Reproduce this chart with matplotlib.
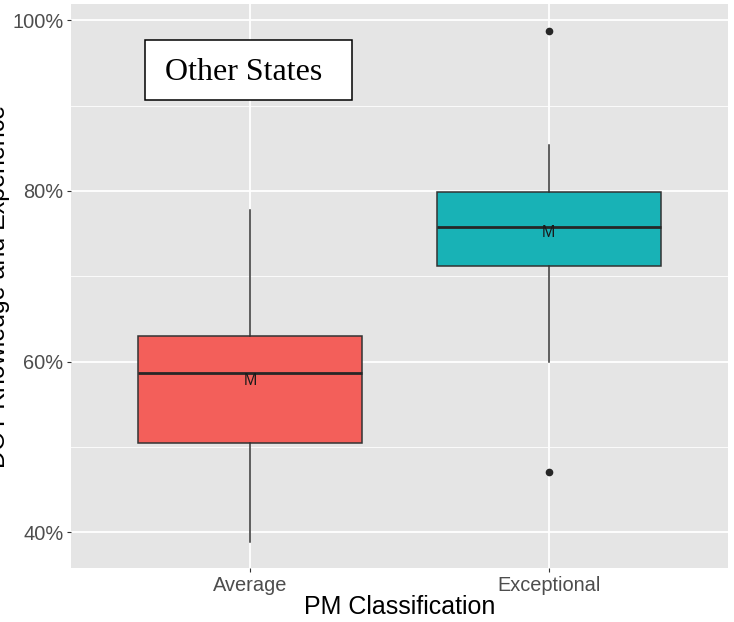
import matplotlib
matplotlib.use("Agg")
from matplotlib import pyplot as plt
import matplotlib.patches as patches
from matplotlib.ticker import PercentFormatter, FixedLocator

# box summaries per PM class (share of DOT knowledge & experience)
groups = ['Average', 'Exceptional']
q1 = [0.504, 0.712]
median = [0.587, 0.758]
q3 = [0.630, 0.799]
whisker_lo = [0.388, 0.599]
whisker_hi = [0.777, 0.854]
means = [0.578, 0.751]
outliers = [[], [0.987, 0.471]]
fills = ['#F35F5A', '#18B2B6']

plt.rcParams['font.family'] = ['Liberation Sans', 'DejaVu Sans']

fig = plt.figure(figsize=(7.34, 6.22), dpi=100)
ax = fig.add_axes([0.0967, 0.0868, 0.8951, 0.9068])
ax.set_facecolor('#E5E5E5')
for s in ax.spines.values():
    s.set_visible(False)

stats = []
for i, g in enumerate(groups):
    stats.append(dict(label=g, q1=q1[i], med=median[i], q3=q3[i],
                      whislo=whisker_lo[i], whishi=whisker_hi[i],
                      mean=means[i], fliers=outliers[i]))

pos = list(range(1, len(groups) + 1))
bp = ax.bxp(stats, positions=pos, widths=0.75, patch_artist=True,
            showcaps=False, showmeans=False, zorder=3,
            boxprops=dict(edgecolor='#333333', linewidth=1.1),
            whiskerprops=dict(color='#333333', linewidth=1.1),
            medianprops=dict(color='#262626', linewidth=2.0),
            flierprops=dict(marker='o', markerfacecolor='#262626',
                            markeredgecolor='#262626', markersize=4.5))
for box, c in zip(bp['boxes'], fills):
    box.set_facecolor(c)

# mean marker as a letter
for p, m in zip(pos, means):
    ax.text(p, m, 'M', ha='center', va='center', fontsize=11.5,
            color='#1A1A1A', zorder=4)

ax.set_xlim(0.4, 2.6)
ax.set_ylim(0.358, 1.019)
ax.yaxis.set_major_locator(FixedLocator([0.4, 0.6, 0.8, 1.0]))
ax.yaxis.set_minor_locator(FixedLocator([0.5, 0.7, 0.9]))
ax.yaxis.set_major_formatter(PercentFormatter(1.0, decimals=0))
ax.set_xticks(pos)
ax.set_xticklabels(groups)
ax.xaxis.set_minor_locator(FixedLocator([]))

ax.grid(True, which='major', color='white', linewidth=1.3, zorder=0)
ax.grid(True, which='minor', axis='y', color='white', linewidth=0.6, zorder=0)
ax.set_axisbelow(True)

ax.tick_params(axis='both', which='major', length=3, width=0.8,
               color='#333333', labelcolor='#4D4D4D', labelsize=14.4, pad=2.5)
ax.tick_params(axis='y', which='minor', length=0)

ax.set_xlabel('PM Classification', fontsize=18, labelpad=0)
fig.text(-2 / 734, 0.5 - (286 - 311) / 622, 'DOT Knowledge and Experience',
         rotation=90, ha='center', va='center', fontsize=18)

# title box in the upper left of the panel
ax.add_patch(patches.Rectangle((0.1126, 0.8298), 0.315, 0.1064,
                               transform=ax.transAxes, facecolor='white',
                               edgecolor='black', linewidth=1.1, zorder=5))
ax.text(0.2624, 0.879, 'Other States', transform=ax.transAxes,
        ha='center', va='center', fontsize=23, family='Liberation Serif',
        color='black', zorder=6)

fig.savefig('out.png', dpi=100)
